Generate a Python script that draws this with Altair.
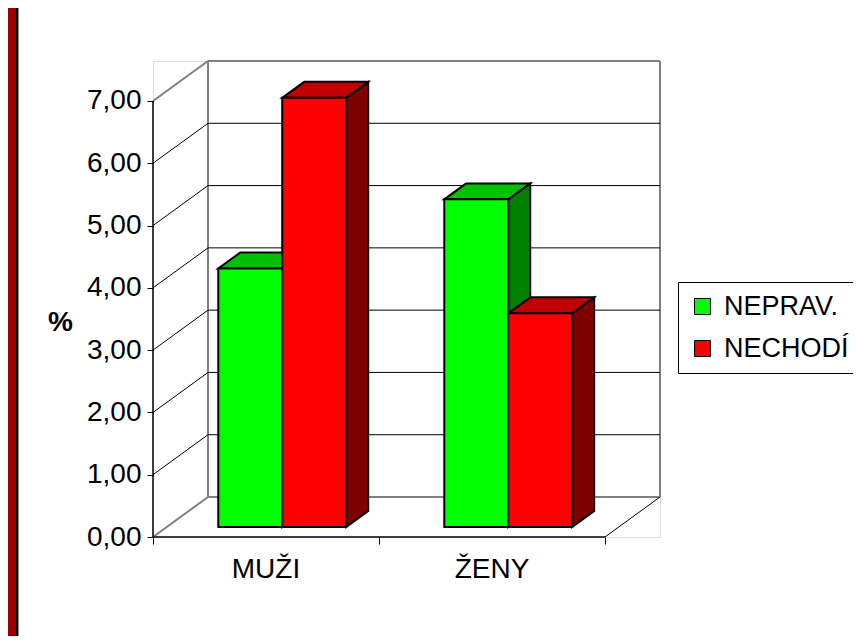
import altair as alt
import pandas as pd

# ---- data ----
categories = ["MUŽI", "ŽENY"]
series = ["NEPRAV.", "NECHODÍ"]
neprav = [4.15, 5.26]
nechodi = [6.89, 3.43]
y_ticks = [0, 1, 2, 3, 4, 5, 6, 7]

front_colors = ["#00FF00", "#FF0000"]
top_colors = ["#00C000", "#C00000"]
side_colors = ["#008000", "#800000"]

# ---- 3D projection style constants ----
DX = 0.2434   # back-wall shift, category units
DY = 0.642    # back-wall shift, value units
D1, D2 = 0.25, 0.65   # bar front / back depth fractions
BW = 0.283            # bar width, category units
CENTER = 0.511        # group centre within a category
YMAX = max(y_ticks)
N = len(categories)
FONT = "Liberation Sans"
FS = 28

values = [neprav, nechodi]

fronts, tops, sides = [], [], []
for i, cat in enumerate(categories):
    for j, s in enumerate(series):
        v = values[j][i]
        bid = f"{i}-{j}"
        xl = i + CENTER - BW + j * BW
        xr = xl + BW
        fronts.append(dict(bar=bid, series=s, x=xl + D1 * DX, x2=xr + D1 * DX,
                           y=D1 * DY, y2=v + D1 * DY))
        for d in (D1, D2):
            tops.append(dict(bar=bid, fill=top_colors[j], yy=v + d * DY,
                             xa=xl + d * DX, xb=xr + d * DX))
            sides.append(dict(bar=bid, fill=side_colors[j], xx=xr + d * DX,
                              ya=v + d * DY, yb=d * DY))

gray_lines = [
    dict(x=DX, x2=N + DX, y=DY, y2=DY),
    dict(x=DX, x2=N + DX, y=YMAX + DY, y2=YMAX + DY),
    dict(x=DX, x2=DX, y=DY, y2=YMAX + DY),
    dict(x=N + DX, x2=N + DX, y=DY, y2=YMAX + DY),
    dict(x=0, x2=DX, y=YMAX, y2=YMAX + DY),
    dict(x=0, x2=DX, y=0, y2=DY),
]
black_lines = []
for k in y_ticks[1:-1]:
    black_lines.append(dict(x=DX, x2=N + DX, y=k + DY, y2=k + DY))
    black_lines.append(dict(x=0, x2=DX, y=k, y2=k + DY))
black_lines.append(dict(x=N, x2=N + DX, y=0, y2=DY))
front_lines = [
    dict(x=0, x2=N, y=0, y2=0),
    dict(x=0, x2=0, y=0, y2=YMAX),
]
labels = [dict(cat=c, x=i + 0.5, y=0) for i, c in enumerate(categories)]

# ---- scales / axes ----
xs = alt.Scale(domain=[0, N + DX], nice=False, zero=False)
ys = alt.Scale(domain=[0, YMAX + DY], nice=False, zero=False)
xaxis = alt.Axis(values=list(range(N + 1)), labels=False, domain=False, grid=False,
                 ticks=True, tickSize=7, tickColor="black", tickWidth=1, title=None)
yaxis = alt.Axis(values=y_ticks, format=".2f", labelExpr="replace(datum.label, '.', ',')",
                 domain=False, grid=False, ticks=True, tickSize=6, tickColor="black",
                 labelFontSize=FS, labelFont=FONT, labelColor="black", labelPadding=6,
                 title="%", titleAngle=0, titleX=-93, titleY=261, titleFontSize=FS,
                 titleFont=FONT, titleFontWeight="bold", titleAlign="center",
                 titleBaseline="middle", titleColor="black")


def X(f):
    return alt.X(f, type="quantitative", scale=xs, axis=xaxis)


def Y(f):
    return alt.Y(f, type="quantitative", scale=ys, axis=yaxis, stack=None)


gray = alt.Chart(pd.DataFrame(gray_lines)).mark_rule(color="#808080", strokeWidth=2).encode(
    x=X("x"), x2="x2", y=Y("y"), y2="y2")
black = alt.Chart(pd.DataFrame(black_lines)).mark_rule(color="black", strokeWidth=1).encode(
    x=X("x"), x2="x2", y=Y("y"), y2="y2")

side = alt.Chart(pd.DataFrame(sides)).mark_area(
    orient="vertical", stroke="black", strokeWidth=2, strokeJoin="miter").encode(
    x=X("xx"), y=Y("ya"), y2="yb", detail="bar:N",
    fill=alt.Fill("fill:N", scale=None))
top = alt.Chart(pd.DataFrame(tops)).mark_area(
    orient="horizontal", stroke="black", strokeWidth=2, strokeJoin="miter").encode(
    y=Y("yy"), x=X("xa"), x2="xb", detail="bar:N",
    fill=alt.Fill("fill:N", scale=None))
front = alt.Chart(pd.DataFrame(fronts)).mark_rect(stroke="black", strokeWidth=2).encode(
    x=X("x"), x2="x2", y=Y("y"), y2="y2",
    fill=alt.Fill("series:N", scale=alt.Scale(domain=series, range=front_colors),
                  legend=alt.Legend(orient="none", legendX=525, legendY=221, title=None,
                                    strokeColor="black", fillColor="white", padding=11,
                                    symbolType="square", symbolSize=256,
                                    symbolStrokeColor="black", symbolStrokeWidth=1,
                                    symbolOpacity=1, labelLimit=200,
                                    labelFontSize=27, labelFont=FONT, labelColor="black",
                                    labelOffset=8, rowPadding=14)))
fl = alt.Chart(pd.DataFrame(front_lines)).mark_rule(color="black", strokeWidth=1.5).encode(
    x=X("x"), x2="x2", y=Y("y"), y2="y2")
txt = alt.Chart(pd.DataFrame(labels)).mark_text(
    baseline="alphabetic", align="center", dy=41, fontSize=FS, font=FONT, color="black").encode(
    x=X("x"), y=Y("y"), text="cat:N")

one = alt.Data(values=[{"a": 1}])
frame_red = alt.Chart(one).mark_rect(color="#990000").encode(
    x=alt.value(-145), x2=alt.value(-137), y=alt.value(-53), y2=alt.value(575))
frame_black = alt.Chart(one).mark_rect(color="black").encode(
    x=alt.value(-137), x2=alt.value(-135), y=alt.value(-53), y2=alt.value(575))
frame_gray = alt.Chart(one).mark_rect(color="#909090").encode(
    x=alt.value(-135), x2=alt.value(-134), y=alt.value(-53), y2=alt.value(575))

chart = alt.layer(gray, black, side, top, front, fl, txt, frame_red, frame_black, frame_gray).properties(
    width=507, height=476,
    padding={"left": 145, "top": 53, "right": 193, "bottom": 99},
    autosize=alt.AutoSizeParams(type="none"),
    background="white",
).configure_view(stroke=None).configure(font=FONT)

chart.save("out.html", embed_options={"renderer": "svg", "actions": False})
